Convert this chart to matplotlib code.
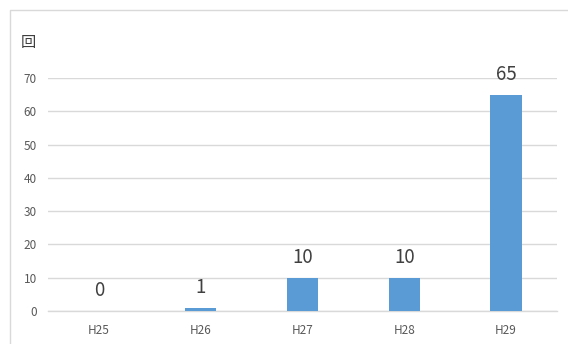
import matplotlib
matplotlib.use("Agg")
import matplotlib.pyplot as plt
from matplotlib.lines import Line2D

plt.rcParams['font.family'] = ['Noto Sans CJK JP', 'DejaVu Sans']

years = ["H25", "H26", "H27", "H28", "H29"]
counts = [0, 1, 10, 10, 65]
yticks = [0, 10, 20, 30, 40, 50, 60, 70]

W, H = 568, 344
fig = plt.figure(figsize=(W / 100, H / 100), dpi=100)
ax = fig.add_axes([48 / W, 1 - 311 / H, (557 - 48) / W, (311 - 78) / H])

x = range(len(years))
ax.bar(x, counts, width=0.31, color="#5B9BD5", zorder=3)
for xi, v in zip(x, counts):
    ax.annotate(str(v), (xi, v), xytext=(0, 7), textcoords="offset points",
                ha="center", va="bottom", fontsize=13.5, color="#404040")

ax.set_xlim(-0.5, len(years) - 0.5)
ax.set_ylim(0, 70)
ax.set_yticks(yticks)
ax.set_xticks(list(x))
ax.set_xticklabels(years)
ax.grid(axis="y", color="#D9D9D9", linewidth=1, zorder=0)
ax.axhline(0, color="#D9D9D9", linewidth=1, zorder=2, clip_on=False)
for s in ax.spines.values():
    s.set_visible(False)
ax.tick_params(length=0, labelsize=8.5, labelcolor="#595959")
ax.tick_params(axis="x", pad=9)
ax.tick_params(axis="y", pad=8)

fig.text(28 / W, 1 - 43 / H, "回", ha="center", va="center", fontsize=11, color="#404040")

# outer chart frame (only top/left visible)
fig.add_artist(Line2D([10 / W, 10 / W, 1], [0, 1 - 10 / H, 1 - 10 / H],
                      transform=fig.transFigure, color="#D9D9D9", linewidth=1))

fig.savefig("out.png", dpi=100)
